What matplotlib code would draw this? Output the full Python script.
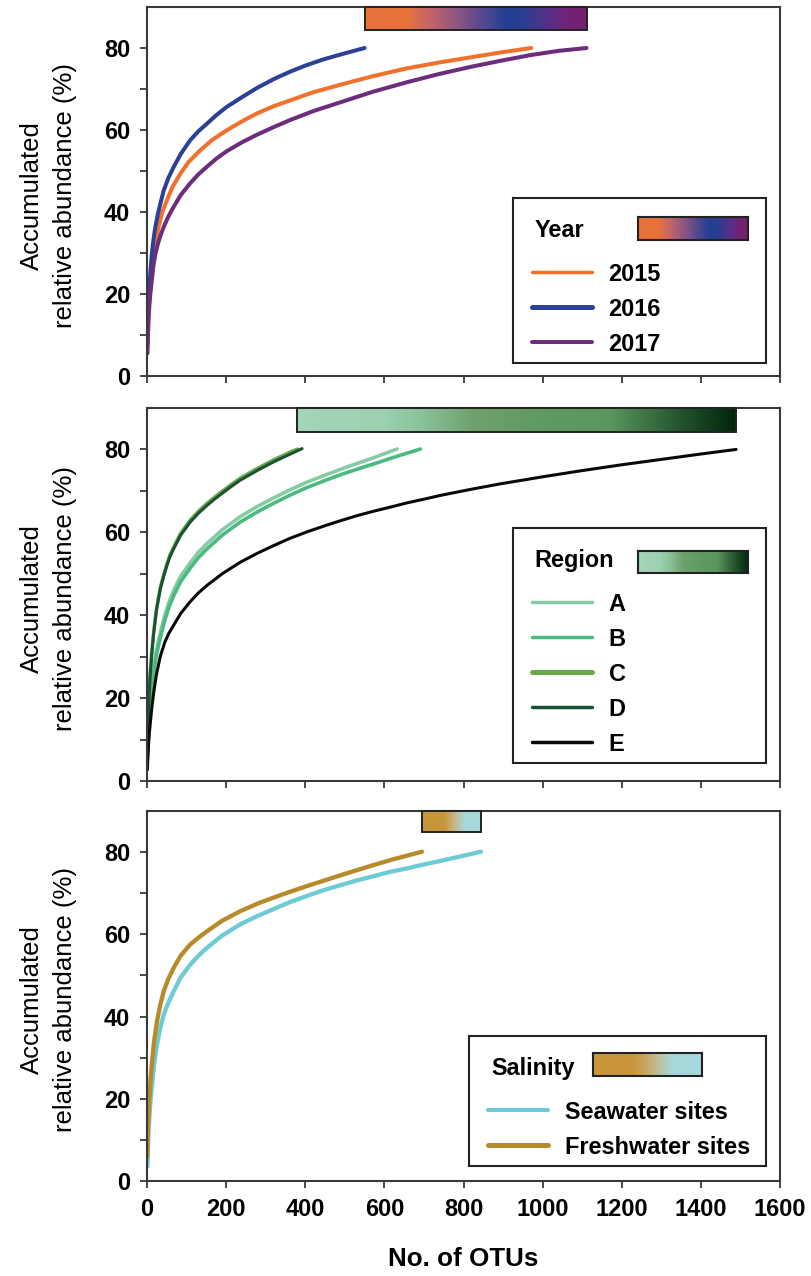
import numpy as np
import matplotlib
matplotlib.use('Agg')
import matplotlib.pyplot as plt
from matplotlib.font_manager import FontProperties
from matplotlib.colors import LinearSegmentedColormap
from matplotlib.lines import Line2D
from matplotlib.legend_handler import HandlerLine2D
from matplotlib.patches import Rectangle
from matplotlib.offsetbox import VPacker, HPacker, DrawingArea

# ---------------- data ----------------
# Panel 1 : Year
x_2015 = [1, 2, 4, 6, 8, 12.6, 17, 22, 29, 38, 50, 65, 84, 105, 134, 165, 201, 240, 277,
          320, 361, 420, 487, 570, 655, 740, 823, 900, 971]
y_2015 = [7, 11, 16, 18.8, 21, 25, 28.6, 32.3, 36.3, 39.8, 42.8, 46.2, 49.3, 52.2, 55, 57.6,
          59.9, 62.1, 64, 65.8, 67.2, 69.2, 71, 73.1, 75, 76.5, 77.8, 79, 80]
x_2016 = [1, 2, 4, 6, 8.4, 12, 16, 21, 28, 35, 42, 54, 67, 85, 109, 130, 151, 175, 201, 240,
          277, 320, 361, 400, 445, 500, 550]
y_2016 = [8, 13, 18, 21.8, 25, 29.5, 33, 36.3, 39.7, 42.5, 45.2, 48.3, 50.9, 54.1, 57.5, 59.7,
          61.5, 63.6, 65.6, 68, 70.2, 72.4, 74.2, 75.7, 77.2, 78.7, 80]
x_2017 = [1, 2, 4, 6, 8.4, 12, 16, 21, 28, 35, 42, 54, 67, 85, 109, 130, 151, 175, 201, 240,
          277, 320, 361, 420, 487, 570, 655, 740, 823, 900, 971, 1040, 1111]
y_2017 = [5.5, 9, 14, 17.3, 20, 23.3, 26.8, 29.7, 32.4, 34.5, 36.3, 38.9, 41.2, 44.1, 47, 49.2,
          51, 53, 54.8, 57, 58.8, 60.7, 62.4, 64.6, 66.7, 69.3, 71.6, 73.7, 75.5, 77, 78.3,
          79.3, 80]
year_labels = ['2015', '2016', '2017']

# Panel 2 : Region
x_A = [1, 2, 4, 6, 8.4, 12, 16.8, 24, 33.7, 45, 55, 67.4, 85, 109.5, 130, 151.6, 190, 236,
       280, 320, 360, 404, 450, 489, 530, 573, 632]
y_A = [5.5, 9, 13, 16.3, 19, 23.2, 27.4, 31.7, 35.8, 40, 43, 46, 49.4, 52.7, 55.2, 57.3, 60.6,
       63.8, 66.3, 68.3, 70.2, 72.1, 73.8, 75.2, 76.6, 78, 80.1]
x_B = [1, 2, 4, 6, 8.4, 12, 16.8, 24, 33.7, 45, 55, 67.4, 85, 109.5, 130, 151.6, 190, 236,
       280, 320, 360, 404, 450, 489, 530, 573, 630, 691]
y_B = [5, 8, 12, 15.2, 18, 22, 26.1, 30.5, 34.6, 38.8, 41.8, 44.7, 48.1, 51.4, 53.9, 56, 59.3,
       62.5, 65, 67, 68.9, 70.8, 72.5, 73.9, 75.2, 76.5, 78.3, 80.1]
x_C = [1, 2, 4, 6, 8.4, 12, 16.8, 24, 33.7, 42, 50.5, 58, 67.4, 85, 109.5, 130, 151.6, 172,
       193.8, 215, 236, 280, 320, 360, 380]
y_C = [6.5, 11.5, 17.5, 22.5, 26.5, 31.1, 36, 41.7, 46.8, 49.8, 52.5, 54.6, 56.5, 59.8, 63,
       65.1, 67, 68.6, 70.2, 71.7, 73.1, 75.5, 77.5, 79.3, 80.1]
x_D = [1, 2, 4, 6, 8.4, 12, 16.8, 24, 33.7, 42, 50.5, 58, 67.4, 85, 109.5, 130, 151.6, 172,
       193.8, 215, 236, 280, 320, 360, 392]
y_D = [6, 11, 17, 22, 26, 30.6, 35.5, 41.2, 46.3, 49.3, 52, 54.1, 56, 59.3, 62.5, 64.6, 66.5,
       68.1, 69.7, 71.2, 72.6, 75, 77, 78.8, 80.2]
x_E = [1, 2, 4, 6, 8.4, 12, 16.8, 24, 33.7, 45, 55, 67.4, 85, 109.5, 130, 151.6, 190, 236,
       280, 320, 360, 404, 450, 489, 530, 573, 620, 657, 700, 741, 820, 893, 950, 1000, 1100,
       1200, 1300, 1400, 1489]
y_E = [2.7, 5.5, 9, 11.7, 14, 17.5, 21.3, 25.8, 30.1, 33.5, 35.6, 37.6, 40.4, 43.3, 45.4, 47.2,
       50, 52.8, 55, 56.8, 58.5, 60.1, 61.6, 62.8, 64, 65.1, 66.2, 67.1, 68, 68.9, 70.4, 71.7,
       72.6, 73.4, 74.9, 76.3, 77.6, 78.9, 80]
region_labels = ['A', 'B', 'C', 'D', 'E']

# Panel 3 : Salinity
x_sea = [1, 2, 4.2, 8, 12.6, 18, 25.2, 33, 42, 54, 67.2, 85, 109, 130, 151, 190, 235, 280,
         319, 360, 403, 445, 487, 530, 571, 610, 655, 700, 739, 790, 844]
y_sea = [3.5, 7, 12.8, 18.5, 23.3, 28.5, 33.1, 37, 40.4, 43.4, 46.1, 49.5, 52.6, 54.8, 56.7,
         59.7, 62.4, 64.5, 66.1, 67.8, 69.3, 70.7, 71.9, 73.1, 74.1, 75.1, 76, 77, 77.8, 78.9,
         80.1]
x_fresh = [1, 2, 4.2, 8, 12.6, 18, 25.2, 33, 42, 54, 67.2, 85, 109, 130, 151, 190, 235, 280,
           319, 360, 403, 445, 487, 530, 571, 620, 695]
y_fresh = [6, 11, 16.8, 23.5, 29, 34, 38.8, 42.6, 46.1, 49.2, 51.8, 54.8, 57.5, 59.2, 60.7,
           63.3, 65.6, 67.5, 68.9, 70.3, 71.7, 73, 74.3, 75.6, 76.8, 78.2, 80.1]
salinity_labels = ['Seawater sites', 'Freshwater sites']

x_ticks = [0, 200, 400, 600, 800, 1000, 1200, 1400, 1600]
y_ticks = [0, 20, 40, 60, 80]
y_minor = [10, 30, 50, 70]

# ---------------- styling ----------------
FONT = 'Liberation Sans'
REG = 'Liberation Sans'

plt.rcParams['font.family'] = [FONT, 'DejaVu Sans']
plt.rcParams['font.weight'] = 'bold'

TICK_PT = 17
LEG_PT = 16.9
XLAB_PT = 18.7
PX = 100 / 72.0

AXC = '#3a3a3a'
BOXC = '#222222'

year_cmap = LinearSegmentedColormap.from_list('year', [
    (0, '#E8723A'), (0.19, '#E8723A'), (0.30, '#C0646E'), (0.42, '#8A5580'),
    (0.52, '#5A4A8C'), (0.64, '#233F94'), (0.72, '#2B3E92'), (0.84, '#5A2F86'),
    (0.92, '#722374'), (1, '#772170')])
region_cmap = LinearSegmentedColormap.from_list('region', [
    (0, '#A3D5B8'), (0.19, '#9DD1B2'), (0.29, '#89C198'), (0.40, '#6FA16E'),
    (0.58, '#5E9A5F'), (0.71, '#5C985E'), (0.85, '#2B5E35'), (1, '#00260C')])
sal_cmap = LinearSegmentedColormap.from_list('sal', [
    (0, '#C9953A'), (0.37, '#C9953A'), (0.55, '#C5B585'), (0.72, '#A6D9DB'), (1, '#A6D9DB')])

fig = plt.figure(figsize=(8.11, 12.76), dpi=100)
W, H = 811.0, 1276.0
L, R = 147, 780
panels_px = [(7, 376), (408, 781), (811, 1181)]
axes = []
for top, bot in panels_px:
    axes.append(fig.add_axes([L / W, 1 - bot / H, (R - L) / W, (bot - top) / H]))

grad = np.linspace(0, 1, 256).reshape(1, -1)
renderer = fig.canvas.get_renderer()
leg_fp = FontProperties(family=FONT, weight='bold', size=LEG_PT)
_, LP_H, LP_D = renderer.get_text_width_height_descent('lp', leg_fp, ismath=False)
_, CAP_H, _ = renderer.get_text_width_height_descent('H', leg_fp, ismath=False)


def style_axis(ax, show_xlabels):
    ax.set_xlim(0, 1600)
    ax.set_ylim(0, 90)
    ax.set_xticks(x_ticks)
    ax.set_yticks(y_ticks)
    ax.set_yticks(y_minor, minor=True)
    for s in ax.spines.values():
        s.set_linewidth(1.5)
        s.set_color(AXC)
    ax.tick_params(which='both', direction='out', length=5, width=1.3, color=AXC,
                   labelsize=TICK_PT)
    ax.tick_params(axis='y', pad=7)
    ax.tick_params(axis='x', pad=7, labelbottom=show_xlabels)
    ax.set_ylabel('Accumulated\nrelative abundance (%)', fontfamily=REG,
                  fontweight='normal', fontsize=18.5, linespacing=1.45)
    ax.yaxis.set_label_coords(-0.111, 0.49)


def top_bar(ax, ends, y0, cmap):
    x0, x1 = min(ends), max(ends)
    ax.imshow(grad, extent=[x0, x1, y0, 90], aspect='auto', cmap=cmap,
              interpolation='bicubic', zorder=3)
    ax.add_patch(Rectangle((x0, y0), x1 - x0, 90 - y0, fill=False, ec=BOXC,
                           lw=1.4, zorder=4, clip_on=False))
    ax.set_xlim(0, 1600)
    ax.set_ylim(0, 90)


def legend(ax, colors, widths, labels, title, x0, x1, y0, cbar_rect, cmap):
    handles = [Line2D([], [], color=c, lw=w, solid_capstyle='round')
               for c, w in zip(colors, widths)]
    fpx = LEG_PT * PX
    P = max(21 - (LP_D + CAP_H / 2), 2)             # px, frame padding
    top_extra = max(30 - ((LP_H - LP_D) - CAP_H / 2) - P, 0)
    xpad = max(18.7 - P, 0)
    leg = ax.legend(handles, labels, title=title, loc='lower left',
                    bbox_to_anchor=(x0, y0, x1 - x0, 0.05), mode='expand',
                    borderaxespad=0, frameon=True, fancybox=False,
                    edgecolor=BOXC, framealpha=1, borderpad=P / fpx,
                    handlelength=(60 + xpad) / fpx, handletextpad=17 / fpx,
                    labelspacing=(35 - LP_H) / fpx,
                    alignment='left',
                    prop={'size': LEG_PT, 'weight': 'bold', 'family': FONT},
                    title_fontproperties={'size': LEG_PT, 'weight': 'bold', 'family': FONT},
                    handler_map={Line2D: HandlerLine2D(xpad=xpad / fpx)})
    leg.get_frame().set_linewidth(1.5)
    box = leg._legend_box
    title_row = HPacker(pad=0, sep=0, align='center',
                        children=[DrawingArea(max(22 - P, 0) / PX, 0), leg._legend_title_box])
    top_block = VPacker(pad=0, sep=0, align='left',
                        children=[DrawingArea(0, top_extra / PX), title_row])
    box._children = [top_block, leg._legend_handle_box]
    box.sep = (44 - LP_H) / PX
    box.set_figure(fig)
    cax = ax.inset_axes(cbar_rect)
    cax.imshow(grad, aspect='auto', cmap=cmap, extent=[0, 1, 0, 1],
               interpolation='bicubic')
    cax.set_xticks([])
    cax.set_yticks([])
    for s in cax.spines.values():
        s.set_linewidth(1.5)
        s.set_color(BOXC)
    cax.set_zorder(10)
    return leg


# ---------- Panel 1 ----------
ax = axes[0]
year_colors = ['#F0712C', '#2C4096', '#6C2D7C']
for xs, ys, c in zip([x_2015, x_2016, x_2017], [y_2015, y_2016, y_2017], year_colors):
    ax.plot(xs, ys, color=c, lw=2.9, solid_capstyle='round', solid_joinstyle='round', zorder=2)
style_axis(ax, False)
top_bar(ax, [x_2015[-1], x_2016[-1], x_2017[-1]], 84.3, year_cmap)
legend(ax, year_colors, [2.5, 3.6, 2.9], year_labels, 'Year',
       0.578, 0.978, 0.0352, [0.775, 0.3686, 0.1747, 0.0631], year_cmap)

# ---------- Panel 2 ----------
ax = axes[1]
region_colors = ['#86CBA5', '#4BBA80', '#6BA84A', '#1B5233', '#0A0A0A']
region_lw = [2.6, 2.6, 2.4, 2.2, 2.2]
for xs, ys, c, w in zip([x_A, x_B, x_C, x_D, x_E], [y_A, y_B, y_C, y_D, y_E],
                        region_colors, region_lw):
    ax.plot(xs, ys, color=c, lw=w, solid_capstyle='round', solid_joinstyle='round', zorder=2)
style_axis(ax, False)
top_bar(ax, [x_A[-1], x_B[-1], x_C[-1], x_D[-1], x_E[-1]], 84.3, region_cmap)
legend(ax, region_colors, [2.5, 2.5, 3.6, 2.5, 2.5], region_labels, 'Region',
       0.578, 0.978, 0.048, [0.775, 0.5576, 0.1747, 0.059], region_cmap)

# ---------- Panel 3 ----------
ax = axes[2]
sal_colors = ['#6DCBD6', '#B78A2A']
for xs, ys, c in zip([x_sea, x_fresh], [y_sea, y_fresh], sal_colors):
    ax.plot(xs, ys, color=c, lw=3.1, solid_capstyle='round', solid_joinstyle='round', zorder=2)
style_axis(ax, True)
top_bar(ax, [x_sea[-1], x_fresh[-1]], 84.8, sal_cmap)
legend(ax, sal_colors, [2.9, 3.6], salinity_labels, 'Salinity',
       0.509, 0.978, 0.0405, [0.7046, 0.2838, 0.1722, 0.0622], sal_cmap)
ax.set_xlabel('No. of OTUs', fontsize=XLAB_PT, fontweight='bold')
ax.xaxis.label.set_va('center')
ax.xaxis.set_label_coords(0.5, -0.212)

fig.savefig('out.png', dpi=100)
